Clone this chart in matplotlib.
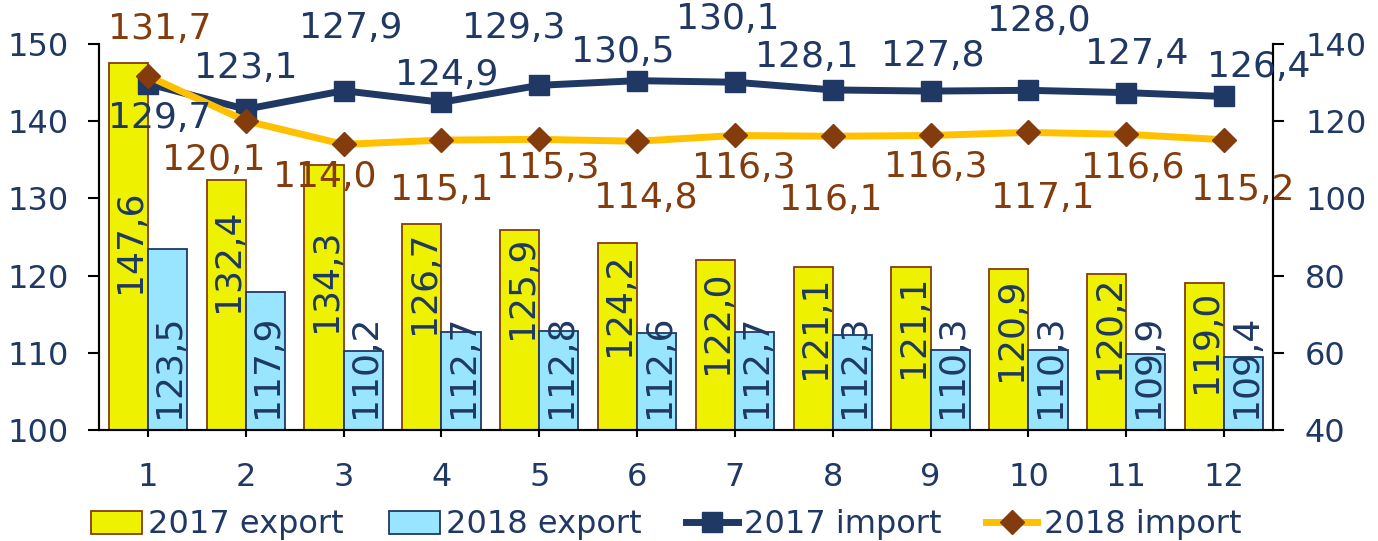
import numpy as np
import matplotlib
matplotlib.use("Agg")
import matplotlib.pyplot as plt
from matplotlib.patches import Patch
from matplotlib.lines import Line2D

# data
months = [1, 2, 3, 4, 5, 6, 7, 8, 9, 10, 11, 12]
export_2017 = [147.6, 132.4, 134.3, 126.7, 125.9, 124.2, 122.0, 121.1, 121.1, 120.9, 120.2, 119.0]
export_2018 = [123.5, 117.9, 110.2, 112.7, 112.8, 112.6, 112.7, 112.3, 110.3, 110.3, 109.9, 109.4]
import_2017 = [129.7, 123.1, 127.9, 124.9, 129.3, 130.5, 130.1, 128.1, 127.8, 128.0, 127.4, 126.4]
import_2018 = [131.7, 120.1, 114.0, 115.1, 115.3, 114.8, 116.3, 116.1, 116.3, 117.1, 116.6, 115.2]
series_names = ["2017 export", "2018 export", "2017 import", "2018 import"]

# label placement (pixels, x right / y up) for the line labels
off_2017 = [(12, -34), (0, 41), (7, 63), (5, 27), (-26, 57), (-14, 29),
            (-7, 63), (-26, 33), (2, 35), (10, 69), (11, 39), (35, 29)]
off_2018 = [(12, 47), (-32, -39), (-19, -33), (0, -50), (9, -29), (9, -57),
            (9, -33), (-2, -64), (5, -32), (14, -66), (7, -34), (19, -50)]
# how far below the bar top the yellow labels sit (left-axis units)
yl_drop = [23.2, 10.4, 14.9, 7.5, 7.4, 7.9, 8.1, 7.8, 7.6, 7.8, 6.9, 7.5]

NAVY = "#1F3864"
BROWN = "#843C0C"
YELLOW = "#EEF200"
LBLUE = "#99E5FF"
ORANGE = "#FFC000"

plt.rcParams['font.family'] = ['DejaVu Sans']

W, H = 1378, 541
fig = plt.figure(figsize=(W / 100, H / 100), dpi=100)
ax = fig.add_axes([99 / W, 1 - 430 / H, (1273 - 99) / W, (430 - 44) / H])
ax2 = ax.twinx()

x = np.array(months)
bw = 0.4
ax.bar(x - bw / 2, export_2017, bw, bottom=0, color=YELLOW, edgecolor=BROWN, linewidth=1.3, zorder=2)
ax.bar(x + bw / 2, export_2018, bw, color=LBLUE, edgecolor=NAVY, linewidth=1.3, zorder=2)

ax.set_xlim(0.5, 12.5)
ax.set_ylim(100, 150)
ax.set_yticks([100, 110, 120, 130, 140, 150])
ax.set_xticks(months)
ax2.set_ylim(40, 140)
ax2.set_yticks([40, 60, 80, 100, 120, 140])

lab_fs = 26
for xi, v, d in zip(x, export_2017, yl_drop):
    ax.text(xi - bw / 2 + 0.02, v - d, f"{v:.1f}".replace(".", ","), rotation=90,
            ha="center", va="center", fontsize=lab_fs, color=NAVY, zorder=3)
for xi, v in zip(x, export_2018):
    ax.text(xi + bw / 2 + 0.02, 108.3, f"{v:.1f}".replace(".", ","), rotation=90,
            ha="center", va="center", fontsize=lab_fs, color=NAVY, zorder=3)

ax2.plot(x, import_2017, color=NAVY, lw=5, marker="s", ms=14, zorder=3)
ax2.plot(x, import_2018, color=ORANGE, lw=5, marker="D", ms=12.5,
         mfc=BROWN, mec=BROWN, zorder=4)

for xi, v, (dx, dy) in zip(x, import_2017, off_2017):
    ax2.annotate(f"{v:.1f}".replace(".", ","), (xi, v), xytext=(dx, dy),
                 textcoords="offset pixels", ha="center", va="center",
                 fontsize=lab_fs, color=NAVY, zorder=5)
for xi, v, (dx, dy) in zip(x, import_2018, off_2018):
    ax2.annotate(f"{v:.1f}".replace(".", ","), (xi, v), xytext=(dx, dy),
                 textcoords="offset pixels", ha="center", va="center",
                 fontsize=lab_fs, color=BROWN, zorder=5)

for a in (ax, ax2):
    a.spines["top"].set_visible(False)
    for s in a.spines.values():
        s.set_linewidth(1.5)
ax.tick_params(axis="y", length=8, width=1.5, pad=14, labelsize=23, labelcolor=NAVY)
ax.tick_params(axis="x", length=5, width=1.5, pad=18, labelsize=23, labelcolor=NAVY)
ax2.tick_params(axis="y", length=8, width=1.5, pad=15, labelsize=23, labelcolor=NAVY)

handles = [
    Patch(facecolor=YELLOW, edgecolor=BROWN, linewidth=1.3),
    Patch(facecolor=LBLUE, edgecolor=NAVY, linewidth=1.3),
    Line2D([], [], color=NAVY, lw=5, marker="s", ms=14),
    Line2D([], [], color=ORANGE, lw=5, marker="D", ms=12.5, mfc=BROWN, mec=BROWN),
]
leg = fig.legend(handles, series_names, loc="center", bbox_to_anchor=(666 / W, 1 - 525 / H),
                 ncol=4, frameon=False, fontsize=23, handlelength=1.6, handletextpad=0.2,
                 columnspacing=1.4, borderpad=0)
for t in leg.get_texts():
    t.set_color(NAVY)

fig.savefig("out.png", dpi=100)
